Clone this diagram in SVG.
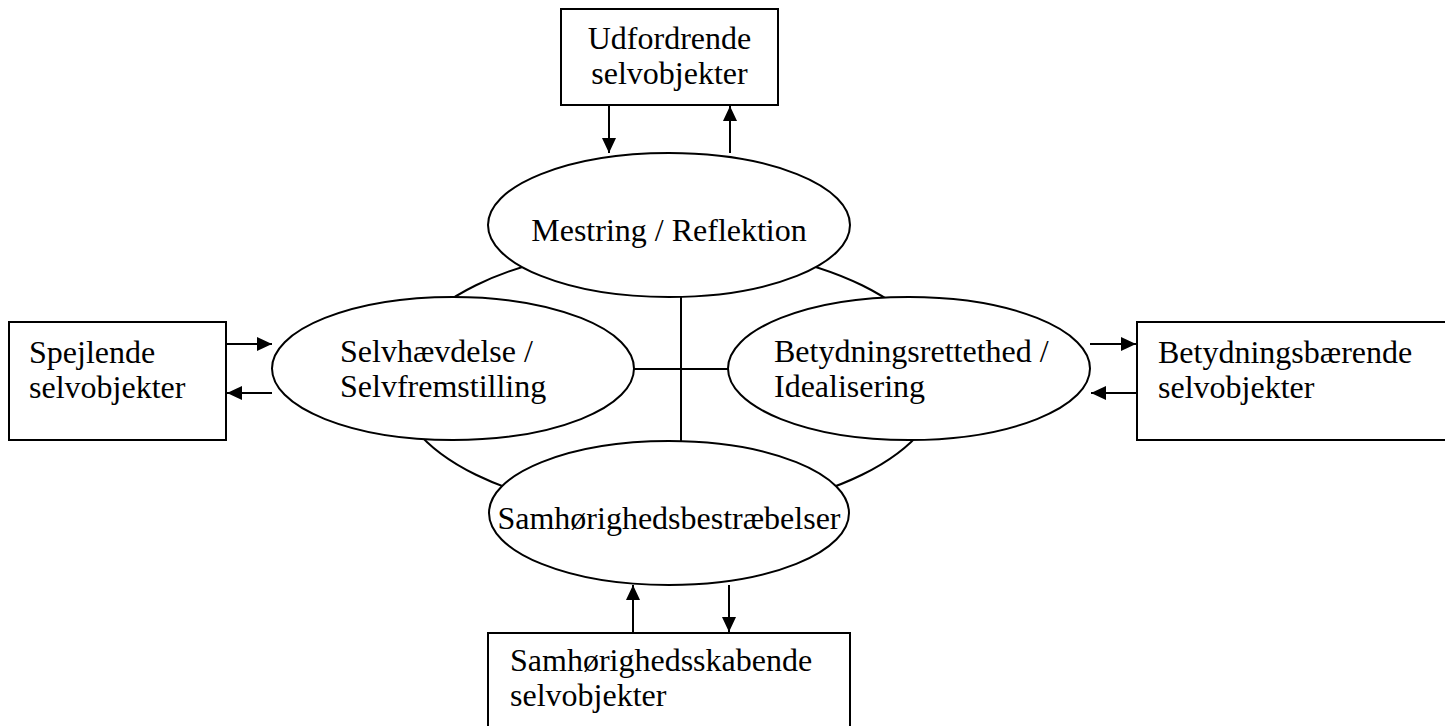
<svg xmlns="http://www.w3.org/2000/svg" width="1445" height="726" viewBox="0 0 1445 726">
<style>
.box{fill:#fff;stroke:#000;stroke-width:2}
.ell{fill:#fff;stroke:#000;stroke-width:2}
.ring{fill:#fff;stroke:#000;stroke-width:2}
.ln{stroke:#000;stroke-width:2;fill:none}
.arr{stroke:#000;stroke-width:2;fill:none;marker-end:url(#ah)}
text{font-family:"Liberation Serif","Times New Roman",serif;font-size:32px;fill:#000}
.c{text-anchor:middle}
</style>
<defs>
<marker id="ah" markerUnits="userSpaceOnUse" markerWidth="16" markerHeight="14" refX="15" refY="7" orient="auto">
<path d="M0,0 L15,7 L0,14 z" fill="#000"/>
</marker>
</defs>
<g id="ring">
<ellipse class="ring" cx="669" cy="380" rx="273" ry="134"/>
</g>
<g id="connectors">
<line class="ln" x1="681" y1="297" x2="681" y2="441"/>
<line class="ln" x1="634" y1="369" x2="728" y2="369"/>
<line class="arr" x1="609" y1="105" x2="609" y2="153"/>
<line class="arr" x1="730" y1="153" x2="730" y2="106"/>
<line class="arr" x1="226" y1="344" x2="272" y2="344"/>
<line class="arr" x1="272" y1="393" x2="227" y2="393"/>
<line class="arr" x1="1090" y1="344" x2="1136" y2="344"/>
<line class="arr" x1="1137" y1="393" x2="1091" y2="393"/>
<line class="arr" x1="633" y1="633" x2="633" y2="585"/>
<line class="arr" x1="729" y1="585" x2="729" y2="632"/>
</g>
<g id="mestring">
<ellipse class="ell" cx="669" cy="225" rx="181" ry="72"/>
<text class="c" x="669" y="241">Mestring / Reflektion</text>
</g>
<g id="selvhaevdelse">
<ellipse class="ell" cx="453" cy="368.5" rx="181" ry="71.5"/>
<text x="340" y="362">Selvhævdelse /</text>
<text x="340" y="397">Selvfremstilling</text>
</g>
<g id="betydningsrettethed">
<ellipse class="ell" cx="909" cy="368.5" rx="181" ry="71.5"/>
<text x="774" y="362">Betydningsrettethed /</text>
<text x="774" y="397">Idealisering</text>
</g>
<g id="samhoerighed">
<ellipse class="ell" cx="669" cy="513" rx="180" ry="72"/>
<text class="c" x="669" y="529">Samhørighedsbestræbelser</text>
</g>
<g id="udfordrende">
<rect class="box" x="561" y="9" width="217" height="96"/>
<text class="c" x="669.5" y="49">Udfordrende</text>
<text class="c" x="669.5" y="84">selvobjekter</text>
</g>
<g id="spejlende">
<rect class="box" x="9" y="322" width="217" height="118"/>
<text x="29" y="363">Spejlende</text>
<text x="29" y="398">selvobjekter</text>
</g>
<g id="betydningsbaerende">
<rect class="box" x="1137" y="322" width="330" height="118"/>
<text x="1158" y="363">Betydningsbærende</text>
<text x="1158" y="398">selvobjekter</text>
</g>
<g id="samhoerighedsskabende">
<rect class="box" x="488" y="633" width="362" height="130"/>
<text x="510" y="671">Samhørighedsskabende</text>
<text x="510" y="706">selvobjekter</text>
</g>
</svg>
